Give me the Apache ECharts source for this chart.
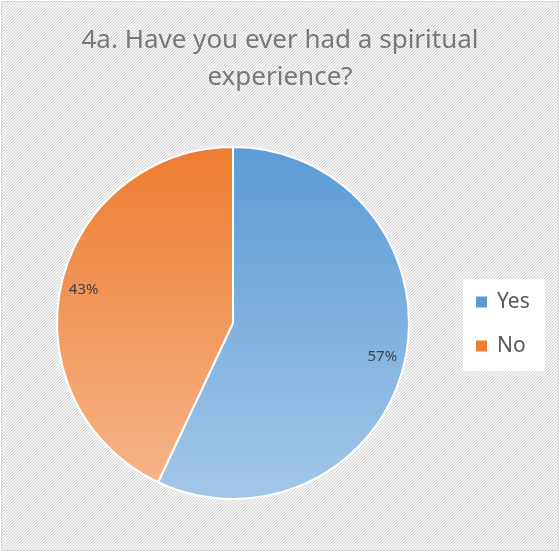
<!DOCTYPE html>
<html>
<head>
<meta charset="utf-8">
<script src="https://cdn.jsdelivr.net/npm/echarts@6/dist/echarts.min.js"></script>
<style>
  html, body { margin: 0; padding: 0; background: #fff; }
  .chart-box {
    position: absolute;
    left: 1px;
    top: 1px;
    width: 556px;
    height: 548px;
    border: 1px solid #d9d9d9;
  }
</style>
</head>
<body>
<div class="chart-box" id="chart"></div>
<script>
const categories = ['Yes', 'No']
const shares = [57, 43]
const titleText = '4a. Have you ever had a spiritual\nexperience?'

const topColors = ['#5B9BD5', '#ED7D31']
const bottomColors = ['#A2C7E9', '#F6B68C']

// hatched chart area: small tile repeated behind the chart
function hatchTile () {
  let c = document.createElement('canvas')
  c.width = 3
  c.height = 3
  let ctx = c.getContext('2d')
  ctx.fillStyle = '#ffffff'
  ctx.fillRect(0, 0, 3, 3)
  for (let y = 0; y < 3; y++) {
    ctx.fillStyle = '#d4d4d4'
    ctx.fillRect(2 - y, y, 1, 1)
    ctx.fillStyle = '#ececec'
    ctx.fillRect((3 - y) % 3, y, 1, 1)
  }
  return c.toDataURL()
}
document.getElementById('chart').style.background = 'url(' + hatchTile() + ') repeat'

function fill (i) {
  return new echarts.graphic.LinearGradient(0, 145, 0, 497, [
    { offset: 0, color: topColors[i] },
    { offset: 1, color: bottomColors[i] }
  ], true)
}

let pieData = categories.map((name, i) => ({
  name: name,
  value: shares[i],
  itemStyle: { color: fill(i) }
}))

let labelData = categories.map((name, i) => ({ name: name, value: shares[i] }))

let chart = echarts.init(document.getElementById('chart'))
let chartOpt = {
  backgroundColor: 'transparent',
  animation: false,
  title: {
    text: titleText,
    left: 'center',
    top: 15,
    textStyle: {
      fontFamily: 'Noto Sans',
      fontSize: 26,
      fontWeight: 'normal',
      color: '#787878',
      lineHeight: 37
    }
  },
  legend: {
    data: categories,
    orient: 'vertical',
    left: 461,
    top: 277,
    padding: [11, 15, 13, 11],
    backgroundColor: '#ffffff',
    itemGap: 20,
    itemWidth: 13,
    itemHeight: 13,
    icon: 'rect',
    textStyle: {
      fontFamily: 'Noto Sans',
      fontSize: 21,
      color: '#595959',
      lineHeight: 24,
      padding: [0, 0, 0, 4]
    }
  },
  series: [{
    type: 'pie',
    center: [231, 321],
    radius: [0, 176],
    startAngle: 90,
    clockwise: true,
    silent: true,
    label: { show: false },
    labelLine: { show: false },
    itemStyle: { borderColor: '#ffffff', borderWidth: 2 },
    data: pieData
  }, {
    type: 'pie',
    center: [231, 321],
    radius: [124, 176],
    startAngle: 90,
    clockwise: true,
    silent: true,
    itemStyle: { color: 'rgba(0,0,0,0)' },
    label: {
      show: true,
      position: 'inside',
      formatter: '{d}%',
      fontFamily: 'Noto Sans',
      fontSize: 15,
      color: '#404040'
    },
    labelLine: { show: false },
    data: labelData
  }]
}

chart.setOption(chartOpt)
</script>
</body>
</html>
